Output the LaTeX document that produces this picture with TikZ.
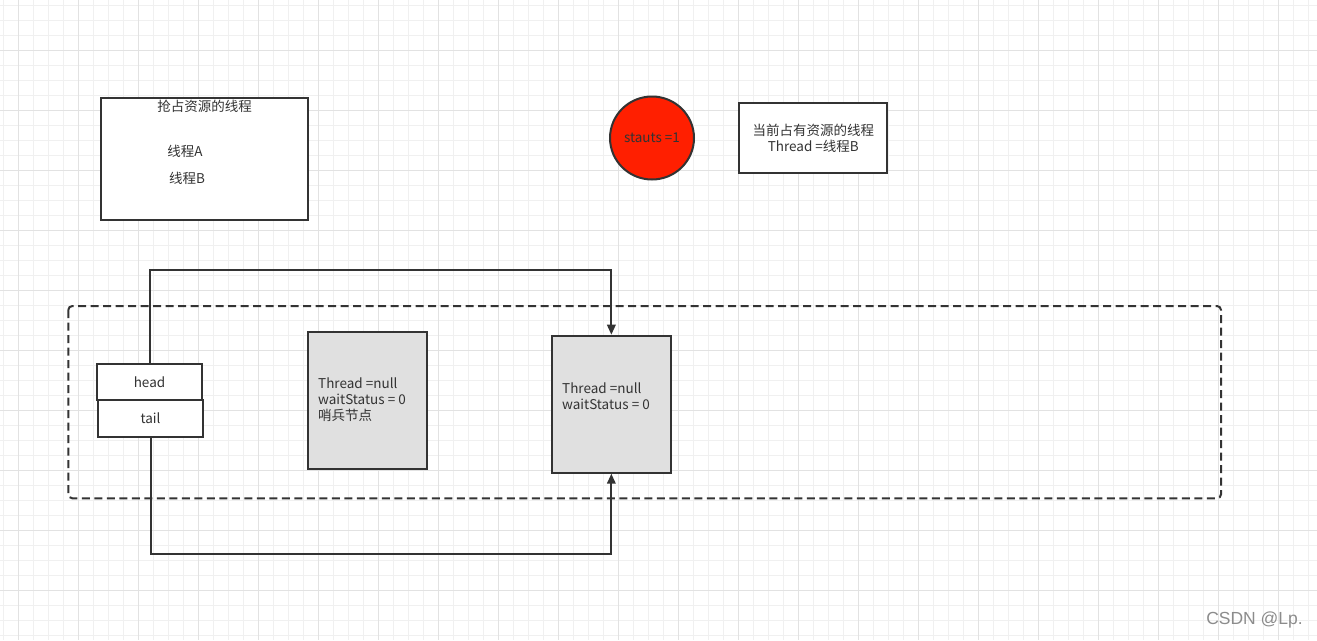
\documentclass[tikz,border=0pt]{standalone}
\usepackage{fontspec}
\setmainfont{Noto Sans CJK SC}
\usetikzlibrary{arrows.meta,shapes.geometric}
\definecolor{ink}{HTML}{333333}
\definecolor{txt}{HTML}{333333}
\definecolor{gminor}{HTML}{F0F0F0}
\definecolor{gmajor}{HTML}{E2E2E2}
\definecolor{redfill}{HTML}{FF1F00}
\definecolor{grayfill}{HTML}{E0E0E0}
\tikzset{
  box/.style={draw=ink, line width=2pt, fill=white, rectangle, inner sep=0pt},
  graybox/.style={box, fill=grayfill},
  lbl/.style={text=txt, font=\fontsize{13.5}{16}\selectfont, inner sep=0pt},
  conn/.style={draw=ink, line width=2pt, -{Triangle[length=10pt,width=8.5pt]}},
  frame/.style={draw=ink, line width=2pt, dash pattern=on 8pt off 4.5pt, rounded corners=4pt},
}
\begin{document}
\begin{tikzpicture}[x=1pt,y=-1pt]
\useasboundingbox (0,0) rectangle (1317,640);
\fill[white] (0,0) rectangle (1317,640);
% grid
\foreach \i in {0,...,87} \draw[gminor, line width=0.9pt] (3.3+15*\i,0) -- (3.3+15*\i,640);
\foreach \j in {0,...,42} \draw[gminor, line width=0.9pt] (0,5+15*\j) -- (1317,5+15*\j);
\foreach \i in {0,...,21} \draw[gmajor, line width=0.9pt] (18.3+60*\i,0) -- (18.3+60*\i,640);
\foreach \j in {0,...,10} \draw[gmajor, line width=0.9pt] (0,50+60*\j) -- (1317,50+60*\j);

% top-left box
\node[box, minimum width=207pt, minimum height=122.5pt] (grab) at (204.5,159) {};
\node[lbl] (grabt) at (204.5,106) {抢占资源的线程};
\node[lbl] (ta) at (185,151) {线程A};
\node[lbl] (tb) at (187,178) {线程B};

% state circle
\node[draw=ink, line width=2pt, fill=redfill, ellipse, minimum width=84pt, minimum height=83pt, inner sep=0pt, text=txt, font=\fontsize{13.5}{16}\selectfont] (state) at (652,138) {stauts =1};

% owner box
\node[box, minimum width=148pt, minimum height=70pt, align=center, text=txt, font=\fontsize{13.5}{16}\selectfont] (owner) at (813.3,138.3) {当前占有资源的线程\\Thread =线程B};

% dashed frame
\draw[frame] (68.3,306) rectangle (1221,498.3);

% head / tail
\node[box, minimum width=105.6pt, minimum height=35.7pt] (head) at (149.5,382.2) {};
\node[lbl] (headt) at (head.center) {head};
\node[box, minimum width=105.6pt, minimum height=36.7pt] (tail) at (150.5,418.3) {};
\node[lbl] (tailt) at (tail.center) {tail};

% sentinel node
\node[graybox, minimum width=119.6pt, minimum height=137.3pt] (n0) at (367.5,400.3) {};
\node[lbl, anchor=west, align=left] (n0t) at (318,400) {Thread =null\\waitStatus = 0\\哨兵节点};

% node 1
\node[graybox, minimum width=119.3pt, minimum height=137pt] (n1) at (611.35,404.2) {};
\node[lbl, anchor=west, align=left] (n1t) at (562,396) {Thread =null\\waitStatus = 0};

% connectors
\draw[conn] (head.north) -- ++(0,-93.6) -| (n1.north);
\draw[conn] (tail.south) -- ++(0,116.3) -| (n1.south);

% watermark
\node[text=black!45, font=\fontspec{Liberation Sans}\fontsize{17.5}{19}\selectfont, anchor=east, inner sep=0pt] (wm) at (1303,620) {CSDN @Lp.};
\end{tikzpicture}
\end{document}
